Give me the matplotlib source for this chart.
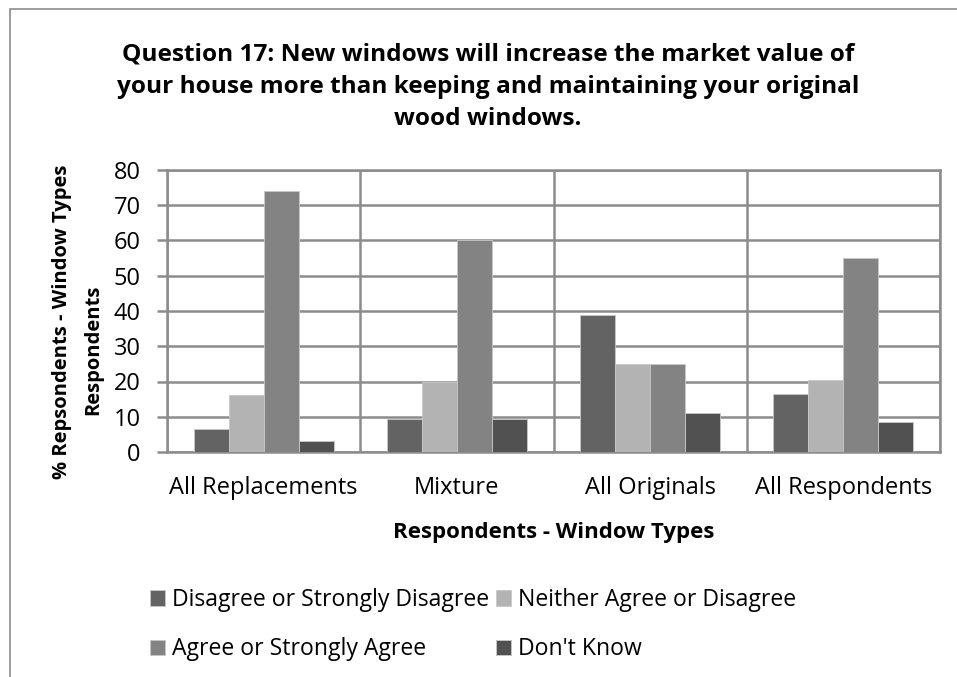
import numpy as np
import matplotlib.pyplot as plt
from matplotlib.patches import Rectangle

plt.rcParams['font.family'] = ['Open Sans', 'DejaVu Sans']

# Dados -------------------------------------------------------
grupos = ["All Replacements", "Mixture", "All Originals", "All Respondents"]
series = ["Disagree or Strongly Disagree", "Neither Agree or Disagree",
          "Agree or Strongly Agree", "Don't Know"]
discorda = [6.5, 9.4, 38.9, 16.5]
neutro = [16.2, 19.8, 25.1, 20.3]
concorda = [74.1, 60.0, 25.1, 55.0]
nao_sabe = [3.1, 9.4, 11.2, 8.5]
yticks = [0, 10, 20, 30, 40, 50, 60, 70, 80]

valores = [discorda, neutro, concorda, nao_sabe]
cores = ["#636363", "#b3b3b3", "#838383", "#515151"]
grade = "#8c8c8c"

fig = plt.figure(figsize=(9.57, 6.77), dpi=100)
ax = fig.add_axes([167/957, 1-452/677, (940-167)/957, (452-170)/677])

# moldura externa do gráfico (cortada à direita e embaixo)
fig.patches.append(Rectangle((10/957, -0.1), 1.2, 1.1 - 9/677, transform=fig.transFigure,
                             fill=False, edgecolor="#8c8c8c", linewidth=1.2))

x = np.arange(len(grupos))
w = 0.181
barras = []
for i, (v, c, s) in enumerate(zip(valores, cores, series)):
    b = ax.bar(x + (i - 1.5) * w, v, w, color=c, edgecolor="#c8c8c8", linewidth=0.6, label=s, zorder=3)
    barras.append(b)

ax.set_xlim(-0.5, len(grupos) - 0.5)
ax.set_ylim(0, 80)
ax.set_yticks(yticks)
ax.set_yticklabels([str(t) for t in yticks], fontsize=17)
ax.set_xticks(x)
ax.set_xticklabels(grupos, fontsize=17)
ax.tick_params(axis='x', length=0, pad=17)
ax.tick_params(axis='y', length=7, width=1.8, color=grade, pad=12)
# linhas verticais separando categorias
ax.set_xticks(np.arange(len(grupos) + 1) - 0.5, minor=True)
ax.tick_params(axis='x', which='minor', length=0)
ax.grid(True, which='minor', axis='x', color=grade, linewidth=1.8, zorder=1)
ax.grid(True, which='major', axis='y', color=grade, linewidth=1.8, zorder=1)
for sp in ax.spines.values():
    sp.set_color(grade)
    sp.set_linewidth(1.8)

fig.text(488/957, 1-87/677, "Question 17: New windows will increase the market value of\n"
         "your house more than keeping and maintaining your original\nwood windows.",
         ha='center', va='center', fontsize=17.6, fontweight='bold', linespacing=1.45)
ax.set_xlabel("Respondents - Window Types", fontsize=16, fontweight='bold', labelpad=16)
fig.text(62/957, 1-322/677, "% Repsondents - Window Types", rotation=90, ha='center', va='center',
         fontsize=14.5, fontweight='bold')
fig.text(93/957, 1-350/677, "Respondents", rotation=90, ha='center', va='center',
         fontsize=14.5, fontweight='bold')

# ordem por linhas: (Discorda, Neutro) / (Concorda, Não sabe)
ordem = [0, 2, 1, 3]
ax.legend([barras[i] for i in ordem], [series[i] for i in ordem],
          loc='upper left', bbox_to_anchor=(150/957, 1-588/677), bbox_transform=fig.transFigure,
          ncol=2, frameon=False, fontsize=16.6, handlelength=0.65, handleheight=0.65,
          handletextpad=0.3, columnspacing=0.3, labelspacing=1.1, borderpad=0, borderaxespad=0)

plt.savefig("out.png")
